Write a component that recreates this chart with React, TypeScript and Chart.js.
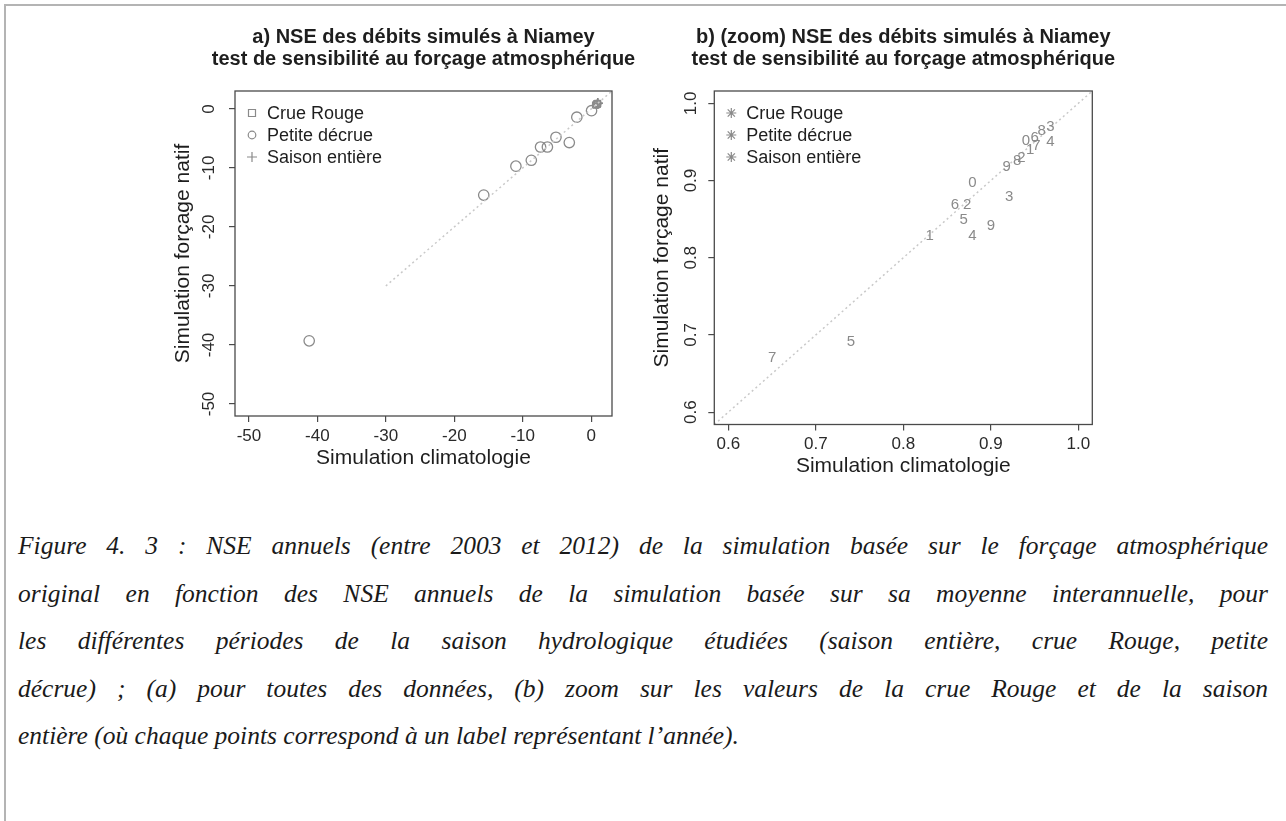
import React, { useEffect, useRef } from "react";
import { Chart, registerables } from "chart.js";

Chart.register(...registerables);

// ---------------- DATA ----------------
// Panel (a): Petite décrue (circles)
const petiteDecrueX = [-41.2, -15.7, -11.0, -8.75, -7.4, -6.4, -5.15, -3.2, -2.1, 0.05];
const petiteDecrueY = [-39.3, -14.6, -9.7, -8.7, -6.45, -6.45, -4.8, -5.7, -1.4, -0.3];

// Year labels (last digit), 2003 .. 2012
const yearLabels = ["3", "4", "5", "6", "7", "8", "9", "0", "1", "2"];

// Crue Rouge (years 2003..2012)
const crueRougeX = [0.921, 0.879, 0.740, 0.859, 0.650, 0.930, 0.900, 0.879, 0.830, 0.873];
const crueRougeY = [0.879, 0.828, 0.691, 0.868, 0.670, 0.925, 0.841, 0.897, 0.829, 0.868];

// Saison entière (years 2003..2012)
const saisonX = [0.968, 0.968, 0.869, 0.950, 0.952, 0.958, 0.918, 0.940, 0.945, 0.935];
const saisonY = [0.970, 0.950, 0.849, 0.955, 0.945, 0.965, 0.918, 0.952, 0.940, 0.930];

// Axis ticks
const ticksA = [-50, -40, -30, -20, -10, 0];
const ticksB = [0.6, 0.7, 0.8, 0.9, 1.0];
const limA = [-52.04, 3.04];
const limB = [0.584, 1.016];
const diagA = [-30, 3.04];
const diagB = [0.584, 1.016];

const titleA = ["a) NSE des débits simulés à Niamey", "test de sensibilité au forçage atmosphérique"];
const titleB = ["b) (zoom) NSE des débits simulés à Niamey", "test de sensibilité au forçage atmosphérique"];
const xTitle = "Simulation climatologie";
const yTitle = "Simulation forçage natif";
const legendItems = ["Crue Rouge", "Petite décrue", "Saison entière"];

const caption = [
  "Figure 4. 3 : NSE annuels (entre 2003 et 2012) de la simulation basée sur le forçage atmosphérique",
  "original en fonction des NSE annuels de la simulation basée sur sa moyenne interannuelle, pour",
  "les différentes périodes de la saison hydrologique étudiées (saison entière, crue Rouge, petite",
  "décrue) ; (a) pour toutes des données, (b) zoom sur les valeurs de la crue Rouge et de la saison",
  "entière (où chaque points correspond à un label représentant l’année).",
];

// ---------------- STYLE ----------------
const FONT = "'Liberation Sans', Arial, Helvetica, sans-serif";
const GRAY = "#8a8a8a";
const INK = "#1e1e1e";

const pts = (xs: number[], ys: number[]) => xs.map((x, i) => ({ x, y: ys[i] }));

function drawMarker(ctx: CanvasRenderingContext2D, kind: string, x: number, y: number) {
  ctx.save();
  ctx.strokeStyle = GRAY;
  ctx.lineWidth = 1.2;
  ctx.beginPath();
  if (kind === "rect") {
    ctx.rect(x - 3.5, y - 3.5, 7, 7);
  } else if (kind === "circle") {
    ctx.arc(x, y, 3.8, 0, Math.PI * 2);
  } else if (kind === "cross") {
    ctx.moveTo(x - 5, y); ctx.lineTo(x + 5, y);
    ctx.moveTo(x, y - 5); ctx.lineTo(x, y + 5);
  } else if (kind === "star") {
    const r = 5;
    ctx.moveTo(x - r, y); ctx.lineTo(x + r, y);
    ctx.moveTo(x, y - r); ctx.lineTo(x, y + r);
    const d = r * 0.72;
    ctx.moveTo(x - d, y - d); ctx.lineTo(x + d, y + d);
    ctx.moveTo(x - d, y + d); ctx.lineTo(x + d, y - d);
  }
  ctx.stroke();
  ctx.restore();
}

function rPlugin(o: {
  title: string[];
  fmt: (v: number) => string;
  markers: string[];
  yTickOff: number;
}) {
  return {
    id: "rstyle",
    afterDraw(chart: any) {
      const ctx: CanvasRenderingContext2D = chart.ctx;
      const ca = chart.chartArea;
      const xs = chart.scales.x;
      const ys = chart.scales.y;
      ctx.save();
      // frame
      ctx.strokeStyle = "#4a4a4a";
      ctx.lineWidth = 1.3;
      ctx.strokeRect(ca.left, ca.top, ca.right - ca.left, ca.bottom - ca.top);

      const cx = (ca.left + ca.right) / 2;
      const cy = (ca.top + ca.bottom) / 2;
      ctx.fillStyle = INK;
      ctx.textAlign = "center";
      ctx.textBaseline = "middle";
      // titles
      ctx.font = `bold 20px ${FONT}`;
      o.title.forEach((t, i) => ctx.fillText(t, cx, 37 + i * 22));

      // tick labels
      ctx.font = `17px ${FONT}`;
      ctx.fillStyle = "#2a2a2a";
      xs.ticks.forEach((t: any) => {
        ctx.fillText(o.fmt(t.value), xs.getPixelForValue(t.value), ca.bottom + 20);
      });
      ys.ticks.forEach((t: any) => {
        ctx.save();
        ctx.translate(ca.left - o.yTickOff, ys.getPixelForValue(t.value));
        ctx.rotate(-Math.PI / 2);
        ctx.fillText(o.fmt(t.value), 0, 0);
        ctx.restore();
      });

      // axis titles
      ctx.font = `21px ${FONT}`;
      ctx.fillStyle = INK;
      ctx.fillText(xTitle, cx, ca.bottom + 42);
      ctx.save();
      ctx.translate(ca.left - 52, cy);
      ctx.rotate(-Math.PI / 2);
      ctx.fillText(yTitle, 0, 0);
      ctx.restore();

      // legend
      ctx.font = `18px ${FONT}`;
      ctx.textAlign = "left";
      legendItems.forEach((t, i) => {
        const yy = ca.top + 22 + i * 22;
        drawMarker(ctx, o.markers[i], ca.left + 17, yy);
        ctx.fillStyle = INK;
        ctx.fillText(t, ca.left + 32, yy + 1);
      });

      // text labels attached to points
      chart.data.datasets.forEach((ds: any, di: number) => {
        if (!ds.textLabels) return;
        const meta = chart.getDatasetMeta(di);
        ctx.font = `15px ${FONT}`;
        ctx.fillStyle = GRAY;
        ctx.textAlign = "center";
        ctx.textBaseline = "middle";
        meta.data.forEach((el: any, j: number) => {
          ctx.fillText(ds.textLabels[j], el.x, el.y);
        });
      });
      ctx.restore();
    },
  };
}

function scales(lim: number[], ticks: number[], yWidth: number, xHeight: number) {
  const common = {
    type: "linear" as const,
    min: lim[0],
    max: lim[1],
    afterBuildTicks: (s: any) => {
      s.ticks = ticks.map((v) => ({ value: v }));
    },
    ticks: { display: false },
    grid: {
      display: true,
      drawOnChartArea: false,
      drawTicks: true,
      tickLength: 6,
      color: "#4a4a4a",
      lineWidth: 1.2,
    },
    border: { display: false },
  };
  return {
    x: { ...common, position: "bottom" as const, afterFit: (s: any) => { s.height = xHeight; } },
    y: { ...common, position: "left" as const, afterFit: (s: any) => { s.width = yWidth; } },
  };
}

const baseOptions = {
  responsive: false,
  animation: false as const,
  events: [] as any[],
  plugins: { legend: { display: false }, title: { display: false }, tooltip: { enabled: false } },
};

export default function App() {
  const refA = useRef<HTMLCanvasElement>(null);
  const refB = useRef<HTMLCanvasElement>(null);

  useEffect(() => {
    const chartA = new Chart(refA.current as HTMLCanvasElement, {
      type: "scatter",
      data: {
        datasets: [
          {
            label: "1:1",
            data: pts(diagA, diagA),
            showLine: true,
            borderColor: "#c9c9c9",
            borderWidth: 1.5,
            borderDash: [2, 3],
            pointRadius: 0,
          },
          {
            label: legendItems[0],
            data: pts(crueRougeX, crueRougeY),
            pointStyle: "rect",
            pointRadius: 4.5,
            backgroundColor: "rgba(0,0,0,0)",
            borderColor: GRAY,
            borderWidth: 1,
          },
          {
            label: legendItems[1],
            data: pts(petiteDecrueX, petiteDecrueY),
            pointStyle: "circle",
            pointRadius: 5.2,
            backgroundColor: "rgba(0,0,0,0)",
            borderColor: GRAY,
            borderWidth: 1.3,
          },
          {
            label: legendItems[2],
            data: pts(saisonX, saisonY),
            pointStyle: "cross",
            pointRadius: 5,
            borderColor: GRAY,
            borderWidth: 1,
          },
        ],
      } as any,
      options: {
        ...baseOptions,
        layout: { padding: { left: 0, right: 28, top: 91, bottom: 0 } },
        scales: scales(limA, ticksA, 85, 64),
      } as any,
      plugins: [rPlugin({ title: titleA, fmt: (v) => String(v), markers: ["rect", "circle", "cross"], yTickOff: 26 })],
    });

    const chartB = new Chart(refB.current as HTMLCanvasElement, {
      type: "scatter",
      data: {
        datasets: [
          {
            label: "1:1",
            data: pts(diagB, diagB),
            showLine: true,
            borderColor: "#c9c9c9",
            borderWidth: 1.5,
            borderDash: [2, 3],
            pointRadius: 0,
          },
          {
            label: legendItems[0],
            data: pts(crueRougeX, crueRougeY),
            pointRadius: 0,
            textLabels: yearLabels,
          },
          {
            label: legendItems[2],
            data: pts(saisonX, saisonY),
            pointRadius: 0,
            textLabels: yearLabels,
          },
        ],
      } as any,
      options: {
        ...baseOptions,
        layout: { padding: { left: 0, right: 27.7, top: 91, bottom: 0 } },
        scales: scales(limB, ticksB, 74.3, 55.5),
      } as any,
      plugins: [rPlugin({ title: titleB, fmt: (v) => v.toFixed(1), markers: ["star", "star", "star"], yTickOff: 23 })],
    });

    return () => {
      chartA.destroy();
      chartB.destroy();
    };
  }, []);

  return (
    <div
      style={{
        position: "absolute",
        left: 0,
        top: 0,
        width: 1286,
        height: 821,
        background: "#ffffff",
        overflow: "hidden",
      }}
    >
      <div style={{ position: "absolute", left: 4, top: 4, width: 1282, height: 2, background: "#b4b4b4" }} />
      <div style={{ position: "absolute", left: 4, top: 4, width: 2, height: 817, background: "#b4b4b4" }} />
      <canvas ref={refA} width={490} height={480} style={{ position: "absolute", left: 150, top: 0 }} />
      <canvas ref={refB} width={480} height={480} style={{ position: "absolute", left: 640, top: 0 }} />
      <div
        style={{
          position: "absolute",
          left: 18,
          top: 522,
          width: 1250,
          fontFamily: "'Liberation Serif', 'Times New Roman', serif",
          fontStyle: "italic",
          fontSize: 25.5,
          lineHeight: "47.5px",
          color: "#1a1a1a",
        }}
      >
        {caption.map((line, i) => (
          <div
            key={i}
            style={{
              textAlign: "justify",
              textAlignLast: i < caption.length - 1 ? "justify" : "left",
              whiteSpace: "nowrap",
            }}
          >
            {line}
          </div>
        ))}
      </div>
    </div>
  );
}
